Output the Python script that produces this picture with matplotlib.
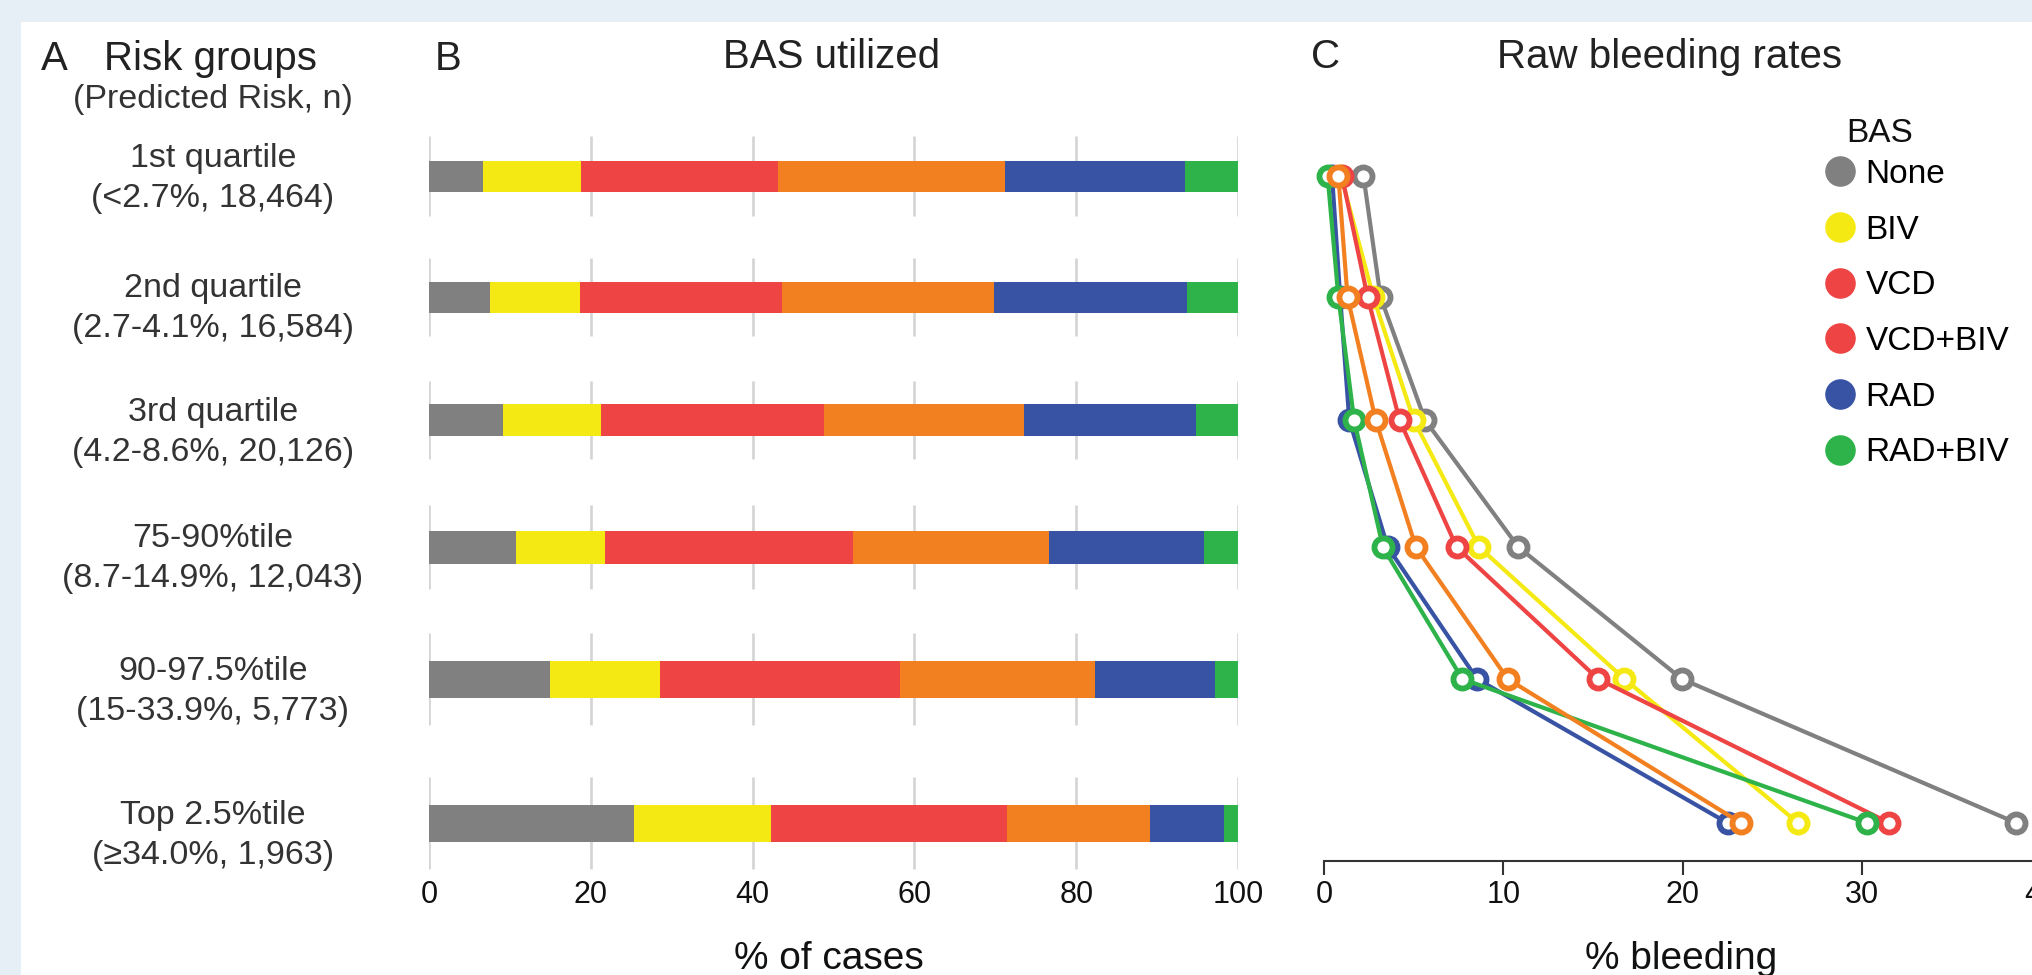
import matplotlib
matplotlib.use("Agg")
import matplotlib.pyplot as plt
from matplotlib.patches import Rectangle
from matplotlib.lines import Line2D
import numpy as np

plt.rcParams['font.family'] = ['Liberation Sans', 'DejaVu Sans']

# ---------------- data ----------------
risk_groups = ["1st quartile", "2nd quartile", "3rd quartile",
               "75-90%tile", "90-97.5%tile", "Top 2.5%tile"]
risk_ranges = ["(<2.7%, 18,464)", "(2.7-4.1%, 16,584)", "(4.2-8.6%, 20,126)",
               "(8.7-14.9%, 12,043)", "(15-33.9%, 5,773)", "(\u226534.0%, 1,963)"]
bas_names = ["None", "BIV", "VCD", "VCD+BIV", "RAD", "RAD+BIV"]

# % of cases using each strategy, per risk group (rows)
pct_none    = [6.7, 7.6, 9.1, 10.7, 15.0, 25.3]
pct_biv     = [12.1, 11.1, 12.2, 11.1, 13.5, 17.0]
pct_vcd     = [24.4, 24.9, 27.5, 30.6, 29.7, 29.2]
pct_vcd_biv = [28.0, 26.2, 24.7, 24.2, 24.1, 17.6]
pct_rad     = [22.3, 23.9, 21.3, 19.2, 14.9, 9.2]
pct_rad_biv = [6.5, 6.3, 5.2, 4.2, 2.8, 1.7]

# raw bleeding rates (%) per risk group
bleed_none    = [2.2, 3.15, 5.63, 10.83, 19.95, 38.6]
bleed_biv     = [0.95, 2.75, 5.0, 8.64, 16.75, 26.43]
bleed_vcd     = [1.0, 2.43, 4.21, 7.39, 15.28, 31.52]
bleed_vcd_biv = [0.8, 1.31, 2.88, 5.12, 10.24, 23.25]
bleed_rad     = [0.45, 0.9, 1.41, 3.55, 8.53, 22.5]
bleed_rad_biv = [0.2, 0.8, 1.68, 3.28, 7.71, 30.29]

b_ticks = [0, 20, 40, 60, 80, 100]
c_ticks = [0, 10, 20, 30, 40]

# ---------------- style / layout ----------------
W, H = 2033, 975
colors = ["#808080", "#f5e914", "#ee4444", "#f28021", "#3853a3", "#2db34a"]
legend_colors = ["#808080", "#f5e914", "#ee4444", "#ee4444", "#3853a3", "#2db34a"]
row_y = [176, 297, 420, 547, 679, 823]          # vertical layout (px from top)
bar_h = [31, 31, 32, 33, 37, 37]
grid_half = [40, 39, 39, 42, 46, 46]
label_y = [167, 297, 421, 547, 680, 824]
line_order = [0, 1, 2, 4, 5, 3]
title_col = "#222222"
label_col = "#333333"
title_fs = 29
label_fs = 24.5

def fx(x):
    return x / W

def fy(y):
    return 1 - y / H

fig = plt.figure(figsize=(W / 100, H / 100), dpi=100, facecolor="#e6eef6")
fig.add_artist(Rectangle((fx(21), 0), 1, fy(22), transform=fig.transFigure,
                         facecolor="white", edgecolor="none", zorder=-10))

# ---------------- panel A: labels ----------------
fig.text(fx(41), fy(70), "A", fontsize=title_fs, color=title_col, va="baseline", ha="left")
fig.text(fx(211), fy(70), "Risk groups", fontsize=title_fs, color=title_col, va="baseline", ha="center")
fig.text(fx(213), fy(108), "(Predicted Risk, n)", fontsize=label_fs, color=label_col, va="baseline", ha="center")
for name, rng, y in zip(risk_groups, risk_ranges, label_y):
    fig.text(fx(213), fy(y), name, fontsize=label_fs, color=label_col, va="baseline", ha="center")
    fig.text(fx(213), fy(y + 40), rng, fontsize=label_fs, color=label_col, va="baseline", ha="center")

# ---------------- panel B: stacked bars ----------------
bx0, bx1, top, bbot = 429, 1238, 100, 870
axB = fig.add_axes([fx(bx0), fy(bbot), (bx1 - bx0) / W, (bbot - top) / H])
axB.set_xlim(0, 100)
axB.set_ylim(bbot, top)
pct_series = [pct_none, pct_biv, pct_vcd, pct_vcd_biv, pct_rad, pct_rad_biv]
left = np.zeros(len(risk_groups))
for vals, col in zip(pct_series, colors):
    axB.barh(row_y, vals, left=left, height=bar_h, color=col, edgecolor="none", zorder=2)
    left = left + np.array(vals)
for y, hh in zip(row_y, grid_half):
    axB.vlines(b_ticks, y - hh, y + hh, color="#d4d4d4", lw=1.9, zorder=1)
for s in axB.spines.values():
    s.set_visible(False)
axB.set_yticks([])
axB.set_xticks(b_ticks)
axB.set_xticklabels([str(t) for t in b_ticks])
axB.tick_params(axis="x", length=0, pad=7, labelsize=22, labelcolor="#111111")
axB.patch.set_alpha(0)
fig.text(fx(435), fy(70), "B", fontsize=title_fs, color=title_col, va="baseline", ha="left")
fig.text(fx(831.5), fy(68), "BAS utilized", fontsize=title_fs, color=title_col, va="baseline", ha="center")
fig.text(fx(829), fy(969), "% of cases", fontsize=28, color="#111111", va="baseline", ha="center")

# ---------------- panel C: bleeding rates ----------------
cx0, cbot = 1324, 861
px_per_unit = 17.94
cxmax = 41
axC = fig.add_axes([fx(cx0), fy(cbot), cxmax * px_per_unit / W, (cbot - top) / H])
axC.set_xlim(0, cxmax)
axC.set_ylim(cbot, top)
bleed_series = [bleed_none, bleed_biv, bleed_vcd, bleed_vcd_biv, bleed_rad, bleed_rad_biv]
for k, i in enumerate(line_order):
    axC.plot(bleed_series[i], row_y, color=colors[i], lw=3, marker="o", ms=13,
             mfc="white", mec=colors[i], mew=4.2, zorder=3 + k, clip_on=False)
for side in ["top", "right", "left"]:
    axC.spines[side].set_visible(False)
axC.spines["bottom"].set_color("#333333")
axC.spines["bottom"].set_linewidth(1.5)
axC.set_yticks([])
axC.set_xticks(c_ticks)
axC.set_xticklabels([str(t) for t in c_ticks])
axC.tick_params(axis="x", length=10, width=1.5, color="#333333", pad=4,
                labelsize=22, labelcolor="#111111")
axC.patch.set_alpha(0)
fig.text(fx(1311), fy(68), "C", fontsize=title_fs, color=title_col, va="baseline", ha="left")
fig.text(fx(1669.5), fy(68), "Raw bleeding rates", fontsize=title_fs, color=title_col, va="baseline", ha="center")
fig.text(fx(1681), fy(969), "% bleeding", fontsize=28, color="#111111", va="baseline", ha="center")

# legend
handles = [Line2D([], [], ls="", marker="o", ms=21, color=c) for c in legend_colors]
fig.legend(handles, bas_names, loc="upper left", bbox_to_anchor=(fx(1823), fy(159)),
           frameon=False, fontsize=24, handlelength=1.0, handletextpad=0.28,
           labelspacing=0.74, borderpad=0, borderaxespad=0)
fig.text(fx(1846), fy(142), "BAS", fontsize=24, color="#111111", va="baseline", ha="left")

fig.savefig("out.png", dpi=100, facecolor=fig.get_facecolor())
